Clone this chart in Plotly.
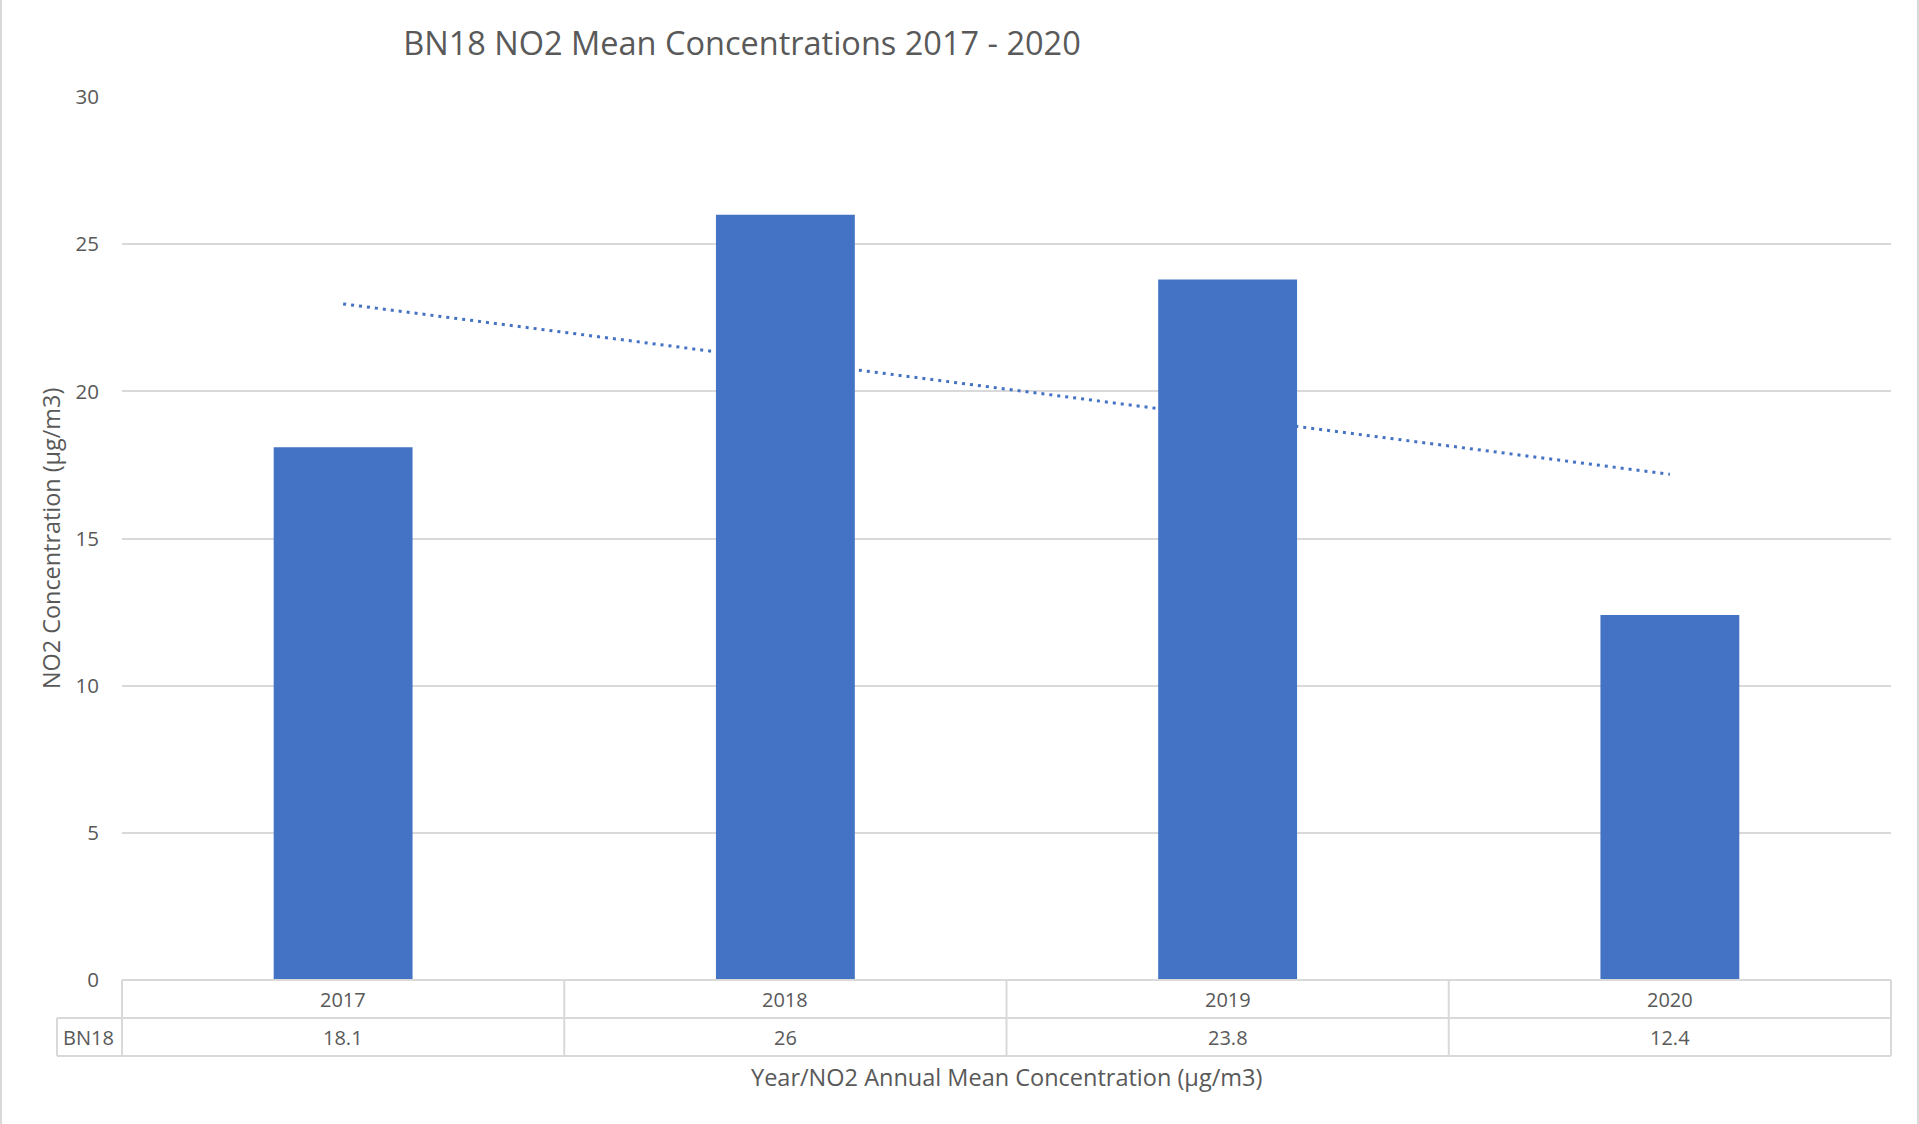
import numpy as np
import plotly.graph_objects as go

# ---- data ----
years = ["2017", "2018", "2019", "2020"]
bn18_values = [18.1, 26, 23.8, 12.4]
series_name = "BN18"
y_ticks = [0, 5, 10, 15, 20, 25, 30]

title_text = "BN18 NO2 Mean Concentrations 2017 - 2020"
y_title = "NO2 Concentration (µg/m3)"
x_title = "Year/NO2 Annual Mean Concentration (µg/m3)"

# linear trendline (least squares, as in the source chart)
xi = np.arange(1, len(bn18_values) + 1)
slope, intercept = np.polyfit(xi, bn18_values, 1)
trend = list(slope * xi + intercept)

# ---- layout geometry (pixels) ----
W, H = 1919, 1124
L, R, T, B = 122, 28, 97, 144
PW, PH = W - L - R, H - T - B

def px_x(px):
    return (px - L) / PW

def px_y(py):
    return (H - B - py) / PH

BLUE = "#4472C4"
GRID = "#D9D9D9"
TEXT = "#595959"
FONT = "Open Sans"

fig = go.Figure()
fig.add_trace(go.Bar(x=years, y=bn18_values, marker=dict(color=BLUE, line=dict(width=0)),
                     name=series_name, showlegend=False))
fig.add_trace(go.Scatter(x=years, y=trend, mode="lines",
                         line=dict(color=BLUE, width=3, dash="3px,5px"),
                         showlegend=False, hoverinfo="skip"))

shapes = []
def hline(y, x0, x1):
    shapes.append(dict(type="line", xref="paper", yref="paper", x0=px_x(x0), x1=px_x(x1),
                       y0=px_y(y), y1=px_y(y), line=dict(color=GRID, width=2), layer="above"))
def vline(x, y0, y1):
    shapes.append(dict(type="line", xref="paper", yref="paper", x0=px_x(x), x1=px_x(x),
                       y0=px_y(y0), y1=px_y(y1), line=dict(color=GRID, width=2), layer="above"))

# data table grid
hline(980, 122, 1891)
hline(1018, 57, 1891)
hline(1056, 57, 1891)
vline(57, 1018, 1056)
n = len(years)
for i in range(n + 1):
    vline(L + PW * i / n, 980, 1056)
# outer chart border (left/right)
vline(1, 0, H)
vline(1918, 0, H)

annotations = []
for i, (yr, v) in enumerate(zip(years, bn18_values)):
    xc = (i + 0.5) / n
    annotations.append(dict(x=xc, xref="paper", y=px_y(999), yref="paper", text=yr, showarrow=False,
                            font=dict(family=FONT, size=20, color=TEXT), xanchor="center", yanchor="middle"))
    annotations.append(dict(x=xc, xref="paper", y=px_y(1037), yref="paper", text=f"{v:g}", showarrow=False,
                            font=dict(family=FONT, size=20, color=TEXT), xanchor="center", yanchor="middle"))
annotations.append(dict(x=px_x(88), xref="paper", y=px_y(1037), yref="paper", text=series_name,
                        showarrow=False, font=dict(family=FONT, size=20, color=TEXT),
                        xanchor="center", yanchor="middle"))
annotations.append(dict(x=px_x(1006), xref="paper", y=px_y(1077), yref="paper", text=x_title,
                        showarrow=False, font=dict(family=FONT, size=23.5, color=TEXT),
                        xanchor="center", yanchor="middle"))
annotations.append(dict(x=px_x(51), xref="paper", y=px_y(539), yref="paper", text=y_title,
                        textangle=-90, showarrow=False, font=dict(family=FONT, size=23.4, color=TEXT),
                        xanchor="center", yanchor="middle"))

fig.update_layout(
    width=W, height=H,
    margin=dict(l=L, r=R, t=T, b=B, autoexpand=False),
    paper_bgcolor="white", plot_bgcolor="white",
    title=dict(text=title_text, x=742 / W, xref="container", xanchor="center",
               y=1 - 44 / H, yref="container", yanchor="middle",
               font=dict(family=FONT, size=32.5, color=TEXT)),
    bargap=0.686,
    shapes=shapes,
    annotations=annotations,
    xaxis=dict(type="category", range=[-0.5, n - 0.5], showticklabels=False, showgrid=False,
               showline=False, zeroline=False, ticks=""),
    yaxis=dict(range=[0, 30], tickvals=y_ticks, showgrid=True, gridcolor=GRID, gridwidth=1.5,
               zeroline=False, showline=False, ticks="", ticklabelstandoff=22,
               tickfont=dict(family=FONT, size=20.5, color=TEXT)),
    font=dict(family=FONT, color=TEXT),
)

fig.write_html("out.html", config={"displayModeBar": False},
               post_script="document.body.style.margin='0';document.body.style.overflow='hidden';")
